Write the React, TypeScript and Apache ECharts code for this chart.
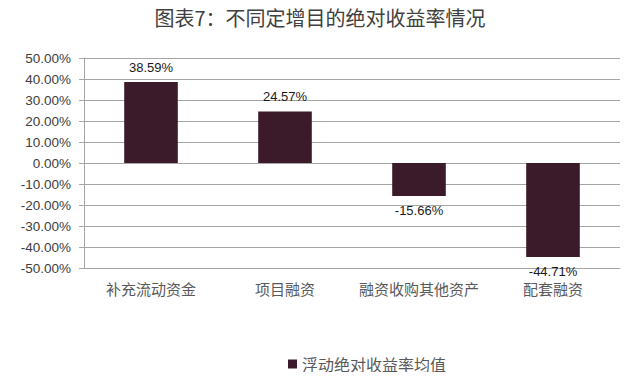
import React, { useEffect, useRef } from "react";
import * as echarts from "echarts";

const categories = ["补充流动资金", "项目融资", "融资收购其他资产", "配套融资"];
const values = [38.59, 24.57, -15.66, -44.71];
const seriesName = "浮动绝对收益率均值";
const title = "图表7：不同定增目的绝对收益率情况";

export default function App() {
  const ref = useRef<HTMLDivElement>(null);
  useEffect(() => {
    const chart = echarts.init(ref.current!, null, { renderer: "svg" });
    chart.setOption({
      animation: false,
      backgroundColor: "#ffffff",
      title: {
        text: title,
        left: "center",
        top: 7,
        padding: 0,
        textStyle: { fontSize: 20, fontWeight: "normal", color: "#404040", fontFamily: "Noto Sans CJK SC" },
      },
      legend: {
        bottom: 8,
        left: 288,
        padding: 0,
        icon: "rect",
        itemWidth: 9,
        itemHeight: 9,
        itemGap: 4,
        textStyle: { fontSize: 16, color: "#595959", fontFamily: "Noto Sans CJK SC" },
        data: [seriesName],
      },
      grid: { left: 84, right: 20, top: 58, bottom: 112, containLabel: false },
      xAxis: {
        type: "category",
        data: categories,
        position: "bottom",
        axisLine: { onZero: false, lineStyle: { color: "#a6a6a6" } },
        axisTick: { show: false },
        axisLabel: { color: "#595959", fontSize: 15, margin: 13, interval: 0, fontFamily: "Noto Sans CJK SC" },
      },
      yAxis: {
        type: "value",
        min: -50,
        max: 50,
        interval: 10,
        axisLine: { show: true, lineStyle: { color: "#a6a6a6" } },
        axisTick: { show: true, length: 5, lineStyle: { color: "#a6a6a6" } },
        axisLabel: {
          color: "#404040",
          fontSize: 13.5,
          margin: 13,
          fontFamily: "Liberation Sans",
          formatter: (v: number) => v.toFixed(2) + "%",
        },
        splitLine: { lineStyle: { color: "#a6a6a6" } },
      },
      series: [
        {
          name: seriesName,
          type: "bar",
          data: values,
          barWidth: "40%",
          itemStyle: { color: "#3b1a2a" },
          label: {
            show: true,
            position: "outside",
            formatter: (p: any) => p.value.toFixed(2) + "%",
            color: "#1a1a1a",
            fontSize: 13,
            fontFamily: "Liberation Sans",
            distance: 8,
          },
        },
      ],
    });
    return () => chart.dispose();
  }, []);
  return <div ref={ref} style={{ width: 640, height: 380, margin: -8 }} />;
}
